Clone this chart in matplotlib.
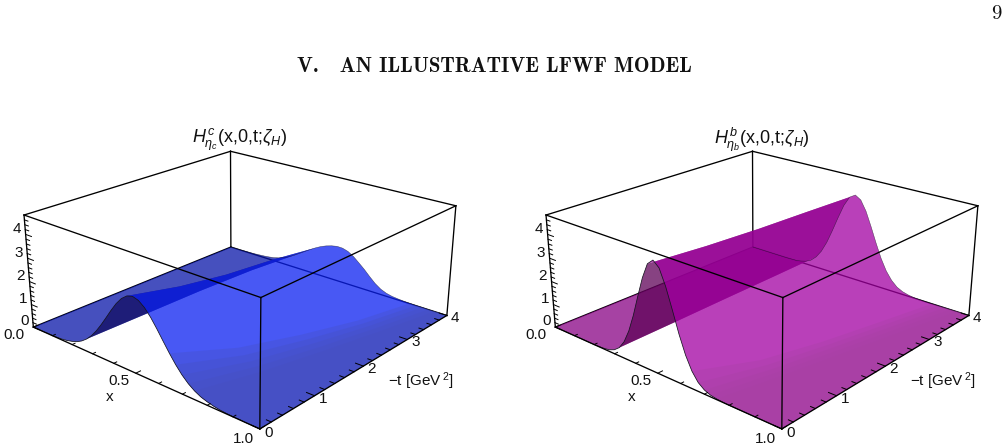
#!/usr/bin/env python3
# GPD surfaces H(x,0,t) for eta_c and eta_b, side by side, under the section heading.
import numpy as np
import matplotlib
matplotlib.use("Agg")
import matplotlib.pyplot as plt
from mpl_toolkits.mplot3d import proj3d
from mpl_toolkits.mplot3d.art3d import Poly3DCollection

plt.rcParams["font.family"] = ["Liberation Sans", "DejaVu Sans"]
plt.rcParams["mathtext.fontset"] = "custom"
plt.rcParams["mathtext.rm"] = "Liberation Sans"
plt.rcParams["mathtext.it"] = "Liberation Sans:italic"
plt.rcParams["mathtext.bf"] = "Liberation Sans:bold"

X_GRID = [0.000, 0.025, 0.050, 0.075, 0.100, 0.125, 0.150, 0.175, 0.200, 0.225, 0.250,
          0.275, 0.300, 0.325, 0.350, 0.375, 0.400, 0.425, 0.450, 0.475, 0.500,
          0.525, 0.550, 0.575, 0.600, 0.625, 0.650, 0.675, 0.700, 0.725, 0.750,
          0.775, 0.800, 0.825, 0.850, 0.875, 0.900, 0.925, 0.950, 0.975, 1.000]
T_GRID = [0, 1, 2, 3, 4]

# eta_c, one row per value of -t
HC_T0 = [0, 0, 0, 0.01, 0.01, 0.02, 0.04, 0.08, 0.14, 0.22, 0.35, 0.53, 0.77, 1.07, 1.42, 1.80, 2.19, 2.55, 2.84, 3.03, 3.10,
         3.03, 2.84, 2.55, 2.19, 1.80, 1.42, 1.07, 0.77, 0.53, 0.35, 0.22, 0.14, 0.08, 0.04, 0.02, 0.01, 0.01, 0, 0, 0]
HC_T1 = [0, 0, 0.01, 0.01, 0.02, 0.03, 0.05, 0.09, 0.14, 0.23, 0.34, 0.50, 0.71, 0.96, 1.24, 1.55, 1.85, 2.13, 2.35, 2.50, 2.55,
         2.50, 2.35, 2.13, 1.85, 1.55, 1.24, 0.96, 0.71, 0.50, 0.34, 0.23, 0.14, 0.09, 0.05, 0.03, 0.02, 0.01, 0.01, 0, 0]
HC_T2 = [0, 0, 0.01, 0.01, 0.02, 0.03, 0.06, 0.09, 0.15, 0.23, 0.34, 0.48, 0.66, 0.87, 1.11, 1.35, 1.60, 1.82, 2.00, 2.11, 2.15,
         2.11, 2.00, 1.82, 1.60, 1.35, 1.11, 0.87, 0.66, 0.48, 0.34, 0.23, 0.15, 0.09, 0.06, 0.03, 0.02, 0.01, 0.01, 0, 0]
HC_T3 = [0, 0, 0.01, 0.01, 0.02, 0.04, 0.06, 0.09, 0.14, 0.21, 0.30, 0.42, 0.58, 0.76, 0.97, 1.19, 1.40, 1.58, 1.72, 1.82, 1.87,
         1.88, 1.82, 1.70, 1.52, 1.29, 1.05, 0.79, 0.56, 0.37, 0.23, 0.14, 0.08, 0.05, 0.03, 0.02, 0.01, 0.01, 0, 0, 0]
HC_T4 = [0, 0.01, 0.01, 0.02, 0.03, 0.04, 0.06, 0.08, 0.11, 0.15, 0.22, 0.31, 0.43, 0.58, 0.75, 0.92, 1.09, 1.25, 1.39, 1.50, 1.58,
         1.63, 1.62, 1.54, 1.38, 1.16, 0.93, 0.67, 0.43, 0.25, 0.14, 0.08, 0.05, 0.03, 0.02, 0.01, 0.01, 0, 0, 0, 0]

# eta_b, same grid
HB_T0 = [0, 0, 0, 0, 0, 0, 0, 0, 0, 0.01, 0.03, 0.07, 0.17, 0.36, 0.71, 1.25, 1.98, 2.84, 3.66, 4.28, 4.50,
         4.28, 3.66, 2.84, 1.98, 1.25, 0.71, 0.36, 0.17, 0.07, 0.03, 0.01, 0, 0, 0, 0, 0, 0, 0, 0, 0]
HB_T1 = [0, 0, 0, 0, 0, 0, 0, 0, 0, 0.01, 0.03, 0.08, 0.19, 0.39, 0.74, 1.27, 1.97, 2.77, 3.54, 4.09, 4.30,
         4.09, 3.54, 2.77, 1.97, 1.27, 0.74, 0.39, 0.19, 0.08, 0.03, 0.01, 0, 0, 0, 0, 0, 0, 0, 0, 0]
HB_T2 = [0, 0, 0, 0, 0, 0, 0, 0, 0.01, 0.01, 0.04, 0.10, 0.21, 0.43, 0.78, 1.30, 1.97, 2.73, 3.44, 3.96, 4.15,
         3.96, 3.44, 2.73, 1.97, 1.30, 0.78, 0.43, 0.21, 0.10, 0.04, 0.01, 0.01, 0, 0, 0, 0, 0, 0, 0, 0]
HB_T3 = [0, 0, 0, 0, 0, 0, 0, 0, 0.01, 0.02, 0.05, 0.11, 0.24, 0.46, 0.82, 1.34, 1.99, 2.72, 3.39, 3.88, 4.05,
         3.88, 3.39, 2.72, 1.99, 1.34, 0.82, 0.46, 0.24, 0.11, 0.05, 0.02, 0.01, 0, 0, 0, 0, 0, 0, 0, 0]
HB_T4 = [0, 0, 0, 0, 0, 0, 0, 0, 0.01, 0.02, 0.06, 0.13, 0.26, 0.50, 0.86, 1.37, 2.01, 2.70, 3.34, 3.79, 3.95,
         3.79, 3.34, 2.70, 2.01, 1.37, 0.86, 0.50, 0.26, 0.13, 0.06, 0.02, 0.01, 0, 0, 0, 0, 0, 0, 0, 0]

Z_TOP = 4.8
X_TICK_LABELS = [0.0, 0.5, 1.0]
T_TICK_LABELS = [0, 1, 2, 3, 4]
Z_TICK_LABELS = [0, 1, 2, 3, 4]

TITLE_C = r"$H^{\,c}_{\eta_{c}}$(x,0,t;$\zeta_{H}$)"
TITLE_B = r"$H^{\,b}_{\eta_{b}}$(x,0,t;$\zeta_{H}$)"

FIG_W, FIG_H = 1008, 448
ELEV, AZIM, ROLL, FOCAL = 22.1268, -48.8787, -0.0386, 0.4498
BOX = (1, 0.9998, 0.3996)
AXES_SIDE = 427.1
AXES_LEFT = (23.4, 545.4)
AXES_BOTTOM = -38.3
ALPHA = 0.75

BLUE = dict(under=(17, 13, 97), dusky=(8, 21, 168), bright=(11, 32, 241))
PURPLE = dict(under=(95, 2, 88), dusky=(137, 3, 132), bright=(162, 0, 162))
# column where the duller strip starts, per row of T_GRID
DULL_FROM = [28, 30, 32, 34, 36]


def fold_indices(x, t, h):
    # per row, where the sheet turns its under side to the viewer
    el, az = np.radians(ELEV), np.radians(AZIM)
    view = np.array([np.cos(el) * np.cos(az), np.cos(el) * np.sin(az), np.sin(el)])
    z_scale = BOX[2] / Z_TOP
    hx = np.gradient(h, x, axis=1)
    ht = np.gradient(h, t, axis=0) * 4
    facing = -hx * z_scale * view[0] - ht * z_scale * view[1] + view[2]
    low, high = [], []
    for row in facing:
        hidden = np.where(row < 0)[0]
        if len(hidden):
            low.append(hidden[0])
            high.append(hidden[-1])
        else:
            low.append(int(np.argmin(row)))
            high.append(int(np.argmin(row)))
    return low, high


def sheet(x, t, h, j_from, j_to):
    # outline of the strip between two columns, walked around its four sides
    last = len(t) - 1
    pts = [(x[j], t[0], h[0, j]) for j in range(j_from[0], j_to[0] + 1)]
    pts += [(x[j_to[i]], t[i], h[i, j_to[i]]) for i in range(1, last)]
    pts += [(x[j], t[last], h[last, j]) for j in range(j_to[last], j_from[last] - 1, -1)]
    pts += [(x[j_from[i]], t[i], h[i, j_from[i]]) for i in range(last - 1, 0, -1)]
    return pts


def add_sheet(ax, pts, rgb, alpha, zorder):
    poly = Poly3DCollection([pts], facecolors=[(rgb[0] / 255, rgb[1] / 255, rgb[2] / 255, alpha)],
                            edgecolors="none", linewidths=0, zorder=zorder)
    ax.add_collection3d(poly)
    poly.set_clip_on(False)


def tick_text(ax, x, t, z, s, fontsize=11):
    vx, vy, _ = proj3d.proj_transform(x, t, z, ax.get_proj())
    px, py = ax.transData.transform((vx, vy))
    fig.text(px / FIG_W, py / FIG_H, s, fontsize=fontsize, color="#111111", ha="center", va="center")


def draw_panel(left, rows, palette, title):
    ax = fig.add_axes([left / FIG_W, AXES_BOTTOM / FIG_H, AXES_SIDE / FIG_W, AXES_SIDE / FIG_H],
                      projection="3d", computed_zorder=False)
    ax.set_box_aspect(BOX)
    ax.view_init(elev=ELEV, azim=AZIM, roll=ROLL)
    ax.set_proj_type("persp", focal_length=FOCAL)
    ax.set_axis_off()
    ax.set_xlim(0, 1, view_margin=0)
    ax.set_ylim(0, 4, view_margin=0)
    ax.set_zlim(0, Z_TOP, view_margin=0)

    x = np.array(X_GRID)
    t = np.array(T_GRID, float)
    h = np.array(rows)
    n_t, n_x = len(t), len(x)
    low, high = fold_indices(x, t, h)

    add_sheet(ax, sheet(x, t, h, [0] * n_t, low), palette["dusky"], ALPHA, 2.0)
    add_sheet(ax, sheet(x, t, h, low, high), palette["under"], ALPHA, 2.1)
    add_sheet(ax, sheet(x, t, h, high, [n_x - 1] * n_t), palette["bright"], ALPHA, 2.2)

    # the flat strip next to x = 1 is duller, built up in nested steps
    dull = np.array(palette["dusky"]) * ALPHA + 255 * (1 - ALPHA)
    for step in (-2, -1, 0, 1, 2):
        add_sheet(ax, sheet(x, t, h, [j + step for j in DULL_FROM], [n_x - 1] * n_t), dull, 0.3, 2.3)

    # open ends of the sheet
    ax.plot(x, t[0] * np.ones_like(x), h[0], color="#15151f", lw=0.55, zorder=2.5, clip_on=False)
    ax.plot(x, t[-1] * np.ones_like(x), h[-1], color="#15151f", lw=0.35, alpha=0.7, zorder=2.5, clip_on=False)

    box = dict(color="black", lw=0.95, clip_on=False)
    # edges behind the sheet
    ax.plot([0, 0], [0, 4], [0, 0], zorder=1, **box)
    ax.plot([0, 1], [4, 4], [0, 0], zorder=1, **box)
    ax.plot([0, 0], [0, 0], [0, Z_TOP], zorder=1, **box)
    ax.plot([0, 0], [4, 4], [0, Z_TOP], zorder=1, **box)
    ax.plot([1, 1], [4, 4], [0, Z_TOP], zorder=1, **box)
    ax.plot([0, 0], [0, 4], [Z_TOP, Z_TOP], zorder=1, **box)
    ax.plot([0, 1], [4, 4], [Z_TOP, Z_TOP], zorder=1, **box)
    # edges in front of it
    ax.plot([0, 1], [0, 0], [0, 0], zorder=3, **box)
    ax.plot([1, 1], [0, 4], [0, 0], zorder=3, **box)
    ax.plot([1, 1], [0, 0], [0, Z_TOP], zorder=3, **box)
    ax.plot([0, 1], [0, 0], [Z_TOP, Z_TOP], zorder=3, **box)
    ax.plot([1, 1], [0, 4], [Z_TOP, Z_TOP], zorder=3, **box)

    tick = dict(color="black", lw=0.7, zorder=3, clip_on=False)
    for v in np.arange(0, 1.01, 0.1):
        size = 0.08 if abs(v - 0.5) < 1e-6 or v < 1e-6 or v > 0.99 else 0.05
        ax.plot([v, v], [0, size], [0, 0], **tick)
    for v in np.arange(0, 4.01, 0.2):
        size = 0.03 if abs(v - round(v)) < 1e-6 else 0.018
        ax.plot([1, 1 - size], [v, v], [0, 0], **tick)
    for v in np.arange(0, Z_TOP, 0.2):
        size = 0.03 if abs(v - round(v)) < 1e-6 else 0.018
        ax.plot([0, size], [0, 0], [v, v], **tick)

    ax.apply_aspect()
    for v in X_TICK_LABELS:
        tick_text(ax, v, -0.33 if v == 0 else -0.28, 0, "%.1f" % v)
    for v in T_TICK_LABELS:
        tick_text(ax, 1.032, v, 0, str(v))
    for v in Z_TICK_LABELS:
        tick_text(ax, -0.045, 0, v + 0.1, str(v))
    tick_text(ax, 0.551, -0.617, 0, "x")
    tick_text(ax, 1.19, 2.13, 0, "\u2212t [GeV$\\,^{2}$]")

    fig.text((left + 216.6) / FIG_W, 1 - 140 / FIG_H, title, fontsize=13, color="#111111",
             ha="center", va="center")


fig = plt.figure(figsize=(FIG_W / 100, FIG_H / 100), dpi=100, facecolor="white")

draw_panel(AXES_LEFT[0], [HC_T0, HC_T1, HC_T2, HC_T3, HC_T4], BLUE, TITLE_C)
draw_panel(AXES_LEFT[1], [HB_T0, HB_T1, HB_T2, HB_T3, HB_T4], PURPLE, TITLE_B)

fig.text(494.5 / FIG_W, 1 - 67 / FIG_H, "V.   AN ILLUSTRATIVE LFWF MODEL", family="cmb10",
         fontsize=15.1, color="#111111", ha="center", va="center")
fig.text(996 / FIG_W, 1 - 14 / FIG_H, "9", family="cmr10", fontsize=15, color="#111111",
         ha="center", va="center")

fig.savefig("out.png", dpi=100, facecolor="white")
